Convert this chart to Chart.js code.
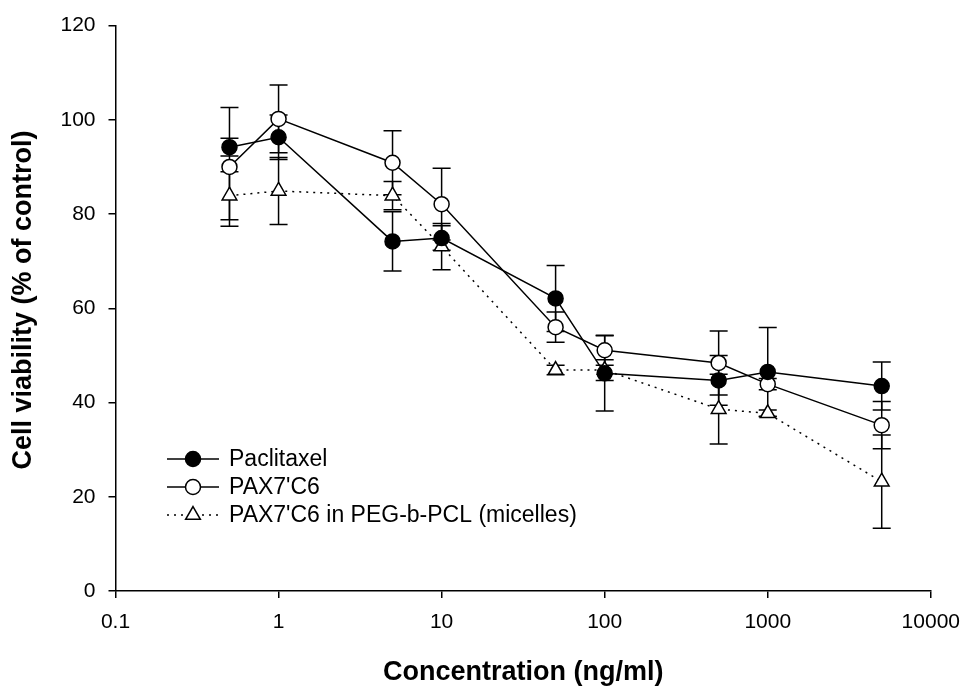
<!DOCTYPE html>
<html>
<head>
<meta charset="utf-8">
<script src="https://cdn.jsdelivr.net/npm/chart.js@4.4.0/dist/chart.umd.min.js"></script>
<style>
html,body{margin:0;padding:0;background:#fff;}
#wrap{width:972px;height:692px;position:relative;}
</style>
</head>
<body>
<div id="wrap"><canvas id="c" width="972" height="692"></canvas></div>
<script>
// ---- data ----
const concentrations = [0.5, 1, 5, 10, 50, 100, 500, 1000, 5000];
const seriesNames = ["Paclitaxel", "PAX7'C6", "PAX7'C6 in PEG-b-PCL (micelles)"];
const paclitaxel    = [94.2, 96.3, 74.2, 74.9, 62.1, 46.2, 44.7, 46.5, 43.5];
const paclitaxelErr = [1.9, 4.7, 6.3, 2.6, 7.0, 8.0, 5.3, 9.4, 5.1];
const pax7c6        = [90.0, 100.2, 90.9, 82.1, 56.0, 51.1, 48.4, 43.9, 35.2];
const pax7c6Err     = [12.6, 7.2, 6.8, 7.6, 3.2, 3.2, 6.8, 1.2, 5.0];
const micelles      = [83.9, 84.9, 83.9, 73.1, 46.9, 46.9, 38.6, 37.7, 23.2];
const micellesErr   = [5.1, 7.1, 3.0, 4.9, 1.0, 2.2, 7.4, 0.7, 9.9];
const xTickValues = [0.1, 1, 10, 100, 1000, 10000];
const xTickLabels = ["0.1", "1", "10", "100", "1000", "10000"];
const yTickValues = [0, 20, 40, 60, 80, 100, 120];
const xTitle = "Concentration (ng/ml)";
const yTitle = "Cell viability (% of control)";

const FONT = "'Liberation Sans', Arial, Helvetica, sans-serif";
const errors = [paclitaxelErr, pax7c6Err, micellesErr];

function pts(vals) { return concentrations.map((c, i) => ({x: c, y: vals[i]})); }

const errorBarPlugin = {
  id: 'errorBars',
  beforeDatasetsDraw(chart) {
    const ctx = chart.ctx, xs = chart.scales.x, ys = chart.scales.y;
    ctx.save();
    ctx.strokeStyle = '#000';
    ctx.lineWidth = 1.5;
    chart.data.datasets.forEach((ds, di) => {
      ds.data.forEach((p, j) => {
        const e = errors[di][j];
        const x = xs.getPixelForValue(p.x);
        const yt = ys.getPixelForValue(p.y + e);
        const yb = ys.getPixelForValue(p.y - e);
        const hw = 9;
        ctx.beginPath();
        ctx.moveTo(x, yt); ctx.lineTo(x, yb);
        ctx.moveTo(x - hw, yt); ctx.lineTo(x + hw, yt);
        ctx.moveTo(x - hw, yb); ctx.lineTo(x + hw, yb);
        ctx.stroke();
      });
    });
    ctx.restore();
  }
};

const legendPlugin = {
  id: 'customLegend',
  afterDraw(chart) {
    const ctx = chart.ctx;
    const rows = [459, 487, 515];
    ctx.save();
    chart.data.datasets.forEach((ds, i) => {
      const y = rows[i];
      ctx.save();
      ctx.strokeStyle = '#000';
      ctx.lineWidth = ds.borderWidth;
      ctx.setLineDash(ds.borderDash || []);
      ctx.beginPath();
      ctx.moveTo(167, y); ctx.lineTo(219, y);
      ctx.stroke();
      ctx.restore();
      ctx.fillStyle = ds.pointBackgroundColor;
      ctx.strokeStyle = '#000';
      ctx.lineWidth = ds.pointBorderWidth;
      Chart.helpers.drawPoint(ctx, {pointStyle: ds.pointStyle, radius: ds.pointRadius, borderWidth: ds.pointBorderWidth, rotation: 0}, 193, y);
      ctx.fillStyle = '#000';
      ctx.font = '23px ' + FONT;
      ctx.textAlign = 'left';
      ctx.textBaseline = 'middle';
      ctx.fillText(seriesNames[i], 229, y + 1);
    });
    // y axis title
    ctx.save();
    ctx.translate(24, 300);
    ctx.rotate(-Math.PI / 2);
    ctx.fillStyle = '#000';
    ctx.font = 'bold 27px ' + FONT;
    ctx.textAlign = 'center';
    ctx.textBaseline = 'middle';
    ctx.fillText(yTitle, 0, 0);
    ctx.restore();
    ctx.restore();
  }
};

new Chart(document.getElementById('c'), {
  type: 'line',
  data: {
    datasets: [
      {
        label: seriesNames[0], data: pts(paclitaxel),
        borderColor: '#000', borderWidth: 1.5,
        pointStyle: 'circle', pointRadius: 7.5,
        pointBackgroundColor: '#000', pointBorderColor: '#000', pointBorderWidth: 1.5
      },
      {
        label: seriesNames[1], data: pts(pax7c6),
        borderColor: '#000', borderWidth: 1.5,
        pointStyle: 'circle', pointRadius: 7.5,
        pointBackgroundColor: '#fff', pointBorderColor: '#000', pointBorderWidth: 1.5
      },
      {
        label: seriesNames[2], data: pts(micelles),
        borderColor: '#000', borderWidth: 1.5, borderDash: [2, 5],
        pointStyle: 'triangle', pointRadius: 8.5,
        pointBackgroundColor: '#fff', pointBorderColor: '#000', pointBorderWidth: 1.5
      }
    ]
  },
  options: {
    responsive: false,
    devicePixelRatio: 1,
    animation: false,
    layout: { padding: { left: 0, top: 19.5, right: 39, bottom: 0 } },
    plugins: { legend: { display: false }, tooltip: { enabled: false } },
    elements: { line: { tension: 0, fill: false } },
    scales: {
      x: {
        type: 'logarithmic', position: 'bottom', min: 0.1, max: 10000,
        afterBuildTicks(scale) { scale.ticks = xTickValues.map(v => ({value: v})); },
        afterFit(scale) { scale.height = 101; },
        ticks: {
          autoSkip: false, maxRotation: 0, minRotation: 0, padding: 12, color: '#000',
          font: { family: FONT, size: 21 },
          callback: (v, i) => xTickLabels[i]
        },
        grid: { display: true, drawOnChartArea: false, drawTicks: true, tickLength: 7, color: '#000', lineWidth: 1.5 },
        border: { display: true, color: '#000', width: 1.5 },
        title: { display: true, text: xTitle, color: '#000', font: { family: FONT, size: 27, weight: 'bold' }, padding: { top: 0, bottom: 3 } }
      },
      y: {
        type: 'linear', position: 'left', min: 0, max: 120,
        afterBuildTicks(scale) { scale.ticks = yTickValues.map(v => ({value: v})); },
        afterFit(scale) { scale.width = 115.5; },
        ticks: { padding: 13, color: '#000', font: { family: FONT, size: 21 } },
        grid: { display: true, drawOnChartArea: false, drawTicks: true, tickLength: 7, color: '#000', lineWidth: 1.5 },
        border: { display: true, color: '#000', width: 1.5 },
        title: { display: false }
      }
    }
  },
  plugins: [errorBarPlugin, legendPlugin]
});
</script>
</body>
</html>
